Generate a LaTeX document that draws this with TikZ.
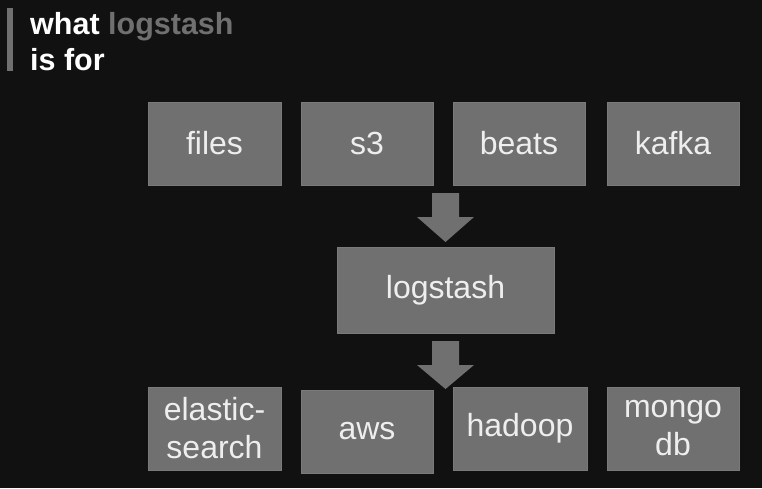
\documentclass[tikz,border=0pt]{standalone}
\usepackage{fontspec}
\setmainfont{Liberation Sans}
\definecolor{bg}{HTML}{111111}
\definecolor{boxgray}{HTML}{707070}
\definecolor{boxedge}{HTML}{7A7A7A}
\definecolor{txt}{HTML}{EEEEEE}
\begin{document}
\begin{tikzpicture}[x=1pt,y=-1pt,
  box/.style={fill=boxgray,draw=boxedge,line width=0.8pt,text=txt,
    font=\fontsize{32}{38}\selectfont,align=center,inner sep=0pt},
  bigarrow/.style={fill=boxgray,draw=none}]
\fill[bg] (0,0) rectangle (762,488);
\useasboundingbox (0,0) rectangle (762,488);
% title
\fill[boxgray] (7,8) rectangle (13,71);
\node[anchor=base west,inner sep=0pt,text=white,font=\bfseries\fontsize{30.5}{36}\selectfont] (t1) at (30,34) {what \textcolor{boxgray}{logstash}};
\node[anchor=base west,inner sep=0pt,text=white,font=\bfseries\fontsize{30.5}{36}\selectfont] (t2) at (30,70) {is for};
% input boxes
\node[box,minimum width=133pt,minimum height=83pt] (files) at (214.5,143.5) {files};
\node[box,minimum width=132pt,minimum height=83pt] (s3) at (367,143.5) {s3};
\node[box,minimum width=132pt,minimum height=83pt] (beats) at (519,143.5) {beats};
\node[box,minimum width=132pt,minimum height=83pt] (kafka) at (673,143.5) {kafka};
% logstash
\node[box,minimum width=217pt,minimum height=86pt] (logstash) at (445.5,290) {logstash};
% outputs
\node[box,minimum width=133pt,minimum height=83pt] (es) at (214.5,428.5) {elastic-\\search};
\node[box,minimum width=132pt,minimum height=83pt] (aws) at (367,431.5) {aws};
\node[box,minimum width=134pt,minimum height=83pt] (hadoop) at (520,428.5) {hadoop};
\node[box,minimum width=132pt,minimum height=83pt] (mongo) at (673,428.5) {mongo\\db};
% arrows
\coordinate (tip1) at (445.5,242);
\fill[bigarrow] (tip1) -- ++(-28.5,-25) -- ++(15,0) -- ++(0,-24) -- ++(27,0) -- ++(0,24) -- ++(15,0) -- cycle;
\coordinate (tip2) at (445.5,389);
\fill[bigarrow] (tip2) -- ++(-28.5,-24) -- ++(15,0) -- ++(0,-24) -- ++(27,0) -- ++(0,24) -- ++(15,0) -- cycle;
\end{tikzpicture}
\end{document}
